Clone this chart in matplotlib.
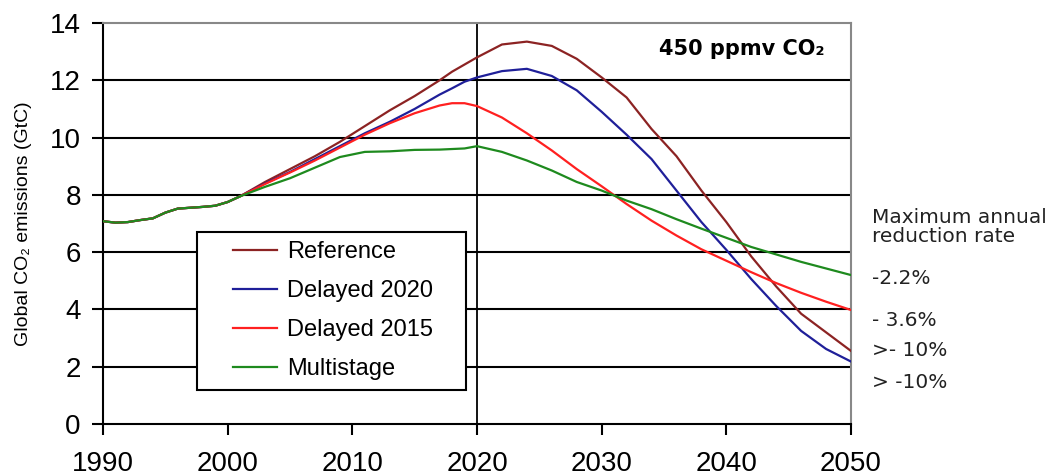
import matplotlib
matplotlib.use("Agg")
import matplotlib.pyplot as plt
from matplotlib.patches import Rectangle

years = [1990, 1991, 1992, 1993, 1994, 1995, 1996, 1997, 1998, 1999, 2000, 2001,
         2003, 2005, 2007, 2009, 2011, 2013, 2015, 2017, 2018, 2019, 2020,
         2022, 2024, 2026, 2028, 2030, 2032, 2034, 2036, 2038, 2040, 2042,
         2044, 2046, 2048, 2050]

history = [7.08, 7.03, 7.05, 7.12, 7.18, 7.38, 7.52, 7.55, 7.58, 7.62, 7.75, 7.95]

reference = history + [8.45, 8.9, 9.35, 9.85, 10.4, 10.95, 11.45, 12.0, 12.3, 12.55, 12.8,
                       13.25, 13.35, 13.2, 12.75, 12.1, 11.4, 10.3, 9.35, 8.15, 7.05, 5.85,
                       4.8, 3.85, 3.2, 2.55]
delayed_2020 = history + [8.4, 8.8, 9.25, 9.7, 10.15, 10.55, 11.0, 11.5, 11.72, 11.95, 12.1,
                          12.32, 12.4, 12.15, 11.65, 10.9, 10.1, 9.25, 8.15, 7.05, 6.08, 5.06,
                          4.12, 3.25, 2.62, 2.18]
delayed_2015 = history + [8.38, 8.78, 9.2, 9.65, 10.1, 10.5, 10.85, 11.12, 11.2, 11.2, 11.1,
                          10.7, 10.15, 9.55, 8.9, 8.3, 7.68, 7.1, 6.58, 6.1, 5.7, 5.3,
                          4.92, 4.58, 4.27, 3.98]
multistage = history + [8.28, 8.58, 8.95, 9.32, 9.5, 9.52, 9.57, 9.58, 9.6, 9.62, 9.7,
                        9.5, 9.2, 8.85, 8.45, 8.15, 7.8, 7.5, 7.15, 6.82, 6.5, 6.18,
                        5.92, 5.66, 5.43, 5.2]

series_names = ["Reference", "Delayed 2020", "Delayed 2015", "Multistage"]
series_values = [reference, delayed_2020, delayed_2015, multistage]
series_colors = ["#8c2323", "#1f1f99", "#ff2020", "#1e8a1e"]

rate_labels = ["-2.2%", "- 3.6%", ">- 10%", "> -10%"]
rate_title = "Maximum annual\nreduction rate"
box_label = "450 ppmv CO\u2082"
ylabel = "Global CO\u2082 emissions (GtC)"
xticks = [1990, 2000, 2010, 2020, 2030, 2040, 2050]
yticks = [0, 2, 4, 6, 8, 10, 12, 14]

W, H = 1051, 475
X0, X1, Y0, Y1 = 103, 851, 424, 23
fig = plt.figure(figsize=(W / 100, H / 100), dpi=100)
ax = fig.add_axes([X0 / W, 1 - Y0 / H, (X1 - X0) / W, (Y0 - Y1) / H])


def axfrac(px, py):
    return (px - X0) / (X1 - X0), (Y0 - py) / (Y0 - Y1)


sans = ["Liberation Sans", "DejaVu Sans"]

for y in yticks[1:-1]:
    ax.axhline(y, color="black", lw=1.5, zorder=1)
ax.axvline(2020, color="black", lw=1.3, zorder=1)

handles = []
for name, vals, col in zip(series_names, series_values, series_colors):
    h, = ax.plot(years, vals, color=col, lw=1.6, label=name, zorder=3)
    handles.append(h)

ax.set_xlim(1990, 2050)
ax.set_ylim(0, 14)
ax.set_xticks(xticks)
ax.set_yticks(yticks)
ax.tick_params(axis="both", direction="out", length=8, width=1.5, color="black",
               labelsize=20, pad=8)
ax.tick_params(axis="x", pad=11.5)
for lab in ax.get_xticklabels() + ax.get_yticklabels():
    lab.set_family(sans)

ax.spines["left"].set_color("black")
ax.spines["left"].set_linewidth(1.5)
ax.spines["bottom"].set_color("black")
ax.spines["bottom"].set_linewidth(1.5)
ax.spines["top"].set_color("#888888")
ax.spines["top"].set_linewidth(1.5)
ax.spines["right"].set_color("#888888")
ax.spines["right"].set_linewidth(1.5)

ax.set_ylabel(ylabel, fontsize=14, family=sans)
ax.yaxis.set_label_coords(axfrac(32, 0)[0], 0.5)

# legend box
bx0, by0 = axfrac(197, 390)
bx1, by1 = axfrac(466, 232)
ax.add_patch(Rectangle((bx0, by0), bx1 - bx0, by1 - by0, transform=ax.transAxes,
                       facecolor="white", edgecolor="black", lw=1.5, zorder=4))
lx, ly = axfrac(233, 241)
leg = ax.legend(handles=handles, loc="upper left", bbox_to_anchor=(lx, ly),
                prop={"family": sans, "size": 17}, frameon=False,
                handlelength=1.86, handletextpad=0.42, labelspacing=0.72,
                borderpad=0, borderaxespad=0)
leg.set_zorder(5)

ax.text(0.965, 0.935, box_label, transform=ax.transAxes, ha="right", va="center",
        fontsize=15, fontweight="bold", family="DejaVu Sans")

fig.text(872 / W, 1 - 227 / H, rate_title, ha="left", va="center", fontsize=14.5,
         family="DejaVu Sans", color="#222222", linespacing=1.0)
rate_y = [278, 320, 350, 382]
for lab, yy in zip(rate_labels, rate_y):
    fig.text(872 / W, 1 - yy / H, lab, ha="left", va="center", fontsize=14.5,
             family="DejaVu Sans", color="#222222")

fig.savefig("out.png", dpi=100)
